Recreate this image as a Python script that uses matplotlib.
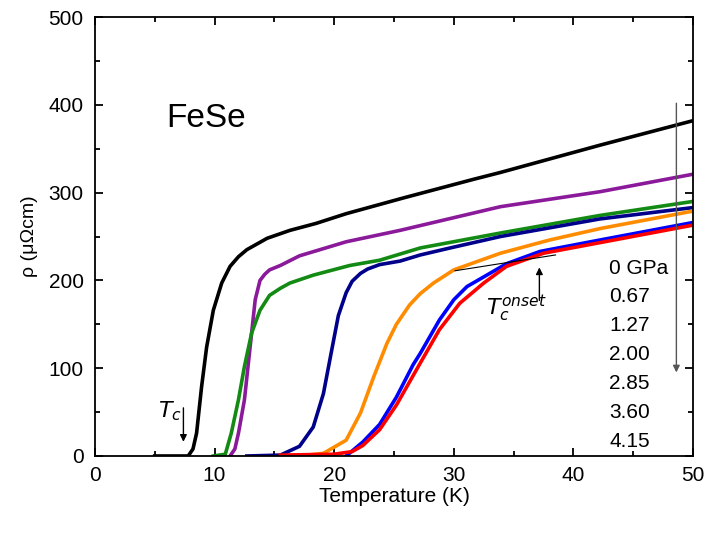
import matplotlib
matplotlib.use('Agg')
from matplotlib import pyplot as plt
from matplotlib.ticker import MultipleLocator

plt.rcParams['font.family'] = ['Liberation Sans', 'DejaVu Sans']

# resistivity curves (T in K, rho in uOhm cm)
t_0 = [5, 6, 7, 7.8, 8.2, 8.5, 8.92, 9.34, 9.9, 10.6, 11.3, 12.0, 12.7, 14.4, 16.3, 18.5, 21.0,
       25.8, 31.6, 33.9, 42.2, 50]
r_0 = [0, 0, 0, 0, 8, 26, 79, 124, 166, 197, 216, 227, 235, 248, 257, 265, 276,
       294, 315, 323, 354, 382]

t_067 = [11.3, 11.7, 12.0, 12.5, 12.8, 13.1, 13.4, 13.8, 14.2, 14.6, 15.5, 17.1, 21.0, 25.5,
         33.9, 42.2, 50]
r_067 = [0, 8, 26, 64, 102, 140, 178, 200, 207, 212, 217, 228, 244, 257,
         284, 301, 321]

t_127 = [9.9, 10.9, 11.4, 12.0, 12.5, 13.1, 13.8, 14.6, 15.5, 16.3, 18.25, 21.3, 23.8, 27.2,
         33.9, 42.2, 50]
r_127 = [0, 2, 26, 64, 102, 140, 166, 183, 191, 197, 206, 217, 223, 237,
         254, 274, 290]

t_200 = [12.7, 15.5, 17.1, 18.25, 19.1, 19.8, 20.35, 21.0, 21.5, 22.2, 22.8, 23.8, 25.5, 27.2,
         29.7, 33.9, 42.2, 50]
r_200 = [0, 1, 11, 33, 71, 121, 160, 186, 199, 208, 213, 218, 222, 229,
         237, 250, 270, 283]

t_285 = [17.1, 19.1, 21.0, 22.2, 23.3, 24.4, 25.2, 26.3, 27.2, 28.3, 30.0, 33.9, 38.0, 42.2, 50]
r_285 = [0, 3, 18, 49, 90, 128, 150, 172, 185, 197, 212, 231, 246, 259, 279]

t_360 = [21.0, 22.4, 23.8, 25.2, 26.6, 27.2, 28.8, 30.0, 31.1, 32.5, 34.4, 37.2, 42.2, 50]
r_360 = [0, 16, 36, 67, 104, 117, 155, 178, 193, 204, 219, 233, 246, 266]

t_415 = [15.5, 20, 21.5, 22.4, 23.8, 25.2, 27.2, 28.8, 30.5, 32.5, 34.4, 37.5, 42.2, 50]
r_415 = [1, 2, 5, 12, 30, 58, 106, 144, 174, 197, 216, 231, 243, 263]

pressures = ['0 GPa', '0.67', '1.27', '2.00', '2.85', '3.60', '4.15']
colors = ['black', '#8b1a9b', '#138a13', '#00008b', '#ff8c00', '#0000ff', '#ff0000']


def main():
    fig = plt.figure(figsize=(7.08, 5.33), dpi=100)
    ax = fig.add_axes([0.134, 0.1445, 0.845, 0.8235])

    curves = [(t_0, r_0), (t_067, r_067), (t_127, r_127), (t_200, r_200),
              (t_285, r_285), (t_360, r_360), (t_415, r_415)]
    for (t, r), c in zip(curves, colors):
        ax.plot(t, r, color=c, lw=2.6, solid_joinstyle='round')

    ax.set_xlim(0, 50)
    ax.set_ylim(0, 500)
    ax.xaxis.set_major_locator(MultipleLocator(10))
    ax.xaxis.set_minor_locator(MultipleLocator(5))
    ax.yaxis.set_major_locator(MultipleLocator(100))
    ax.yaxis.set_minor_locator(MultipleLocator(50))
    ax.tick_params(which='both', direction='in', top=True, right=True,
                   width=1.3, labelsize=15)
    ax.tick_params(which='major', length=6)
    ax.tick_params(which='minor', length=3.5)
    ax.tick_params(axis='x', pad=7)
    ax.tick_params(axis='y', pad=8)
    for s in ax.spines.values():
        s.set_linewidth(1.3)

    ax.set_xlabel('Temperature (K)', fontsize=15, labelpad=2)
    ax.set_ylabel('ρ (μΩcm)', fontsize=14, labelpad=8)

    ax.text(6.0, 384, 'FeSe', fontsize=24, va='center', ha='left')

    # pressure labels and arrow
    ys = [213, 182, 149, 116, 83, 50, 17]
    for lab, y in zip(pressures, ys):
        ax.text(43.0, y, lab, fontsize=15, va='center', ha='left')
    ax.annotate('', xy=(48.6, 92), xytext=(48.6, 405),
                arrowprops=dict(arrowstyle='-|>', color='#555555', lw=1.0,
                                mutation_scale=10))

    # Tc marker
    ax.annotate('', xy=(7.4, 13), xytext=(7.4, 58),
                arrowprops=dict(arrowstyle='-|>', color='black', lw=1.0,
                                mutation_scale=10))
    ax.text(5.3, 51, r'$T_c$', fontsize=16, ha='left', va='center')

    # Tc onset marker
    ax.plot([30.1, 38.5], [211, 229], color='black', lw=0.8)
    ax.annotate('', xy=(37.15, 218), xytext=(37.15, 174),
                arrowprops=dict(arrowstyle='-|>', color='black', lw=1.0,
                                mutation_scale=10))
    ax.text(32.7, 168, r'$T_c^{onset}$', fontsize=16, ha='left', va='center')

    fig.savefig('out.png', dpi=100)


if __name__ == '__main__':
    main()
